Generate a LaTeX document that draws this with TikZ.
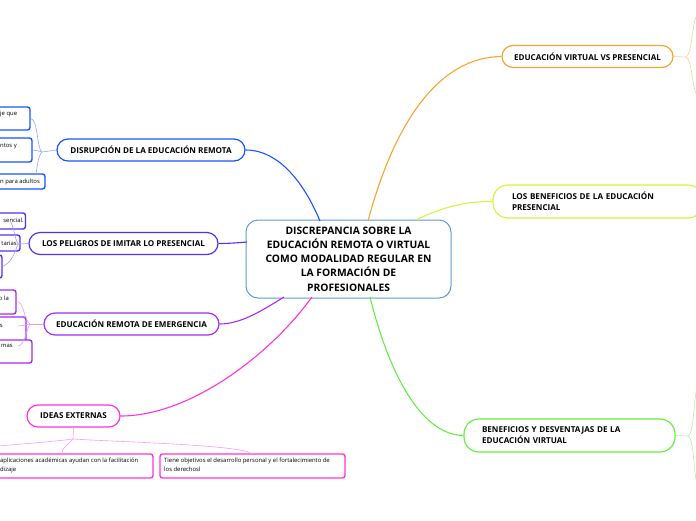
\documentclass[tikz,border=0pt]{standalone}
\usepackage{fontspec}
\setmainfont{Open Sans}
\definecolor{cCenter}{HTML}{5B9BD5}
\definecolor{cOrange}{HTML}{F7A531}
\definecolor{cOrangeL}{HTML}{FAD09A}
\definecolor{cYellow}{HTML}{D4F542}
\definecolor{cGreen}{HTML}{66EE44}
\definecolor{cGreenL}{HTML}{B3F5A0}
\definecolor{cBlue}{HTML}{1A53FF}
\definecolor{cBlueL}{HTML}{8FA9FF}
\definecolor{cViolet}{HTML}{5533EE}
\definecolor{cVioletL}{HTML}{A999F6}
\definecolor{cPurple}{HTML}{A52AF0}
\definecolor{cPurpleL}{HTML}{D9A0F8}
\definecolor{cMagenta}{HTML}{FF33DD}
\definecolor{cMagentaL}{HTML}{FF99EE}
\begin{document}
\begin{tikzpicture}[x=1pt,y=-1pt,
  mainbox/.style={draw, line width=1.2pt, rounded corners=11pt, inner sep=0pt,
    minimum height=22pt, font=\fontsize{8.1}{11}\selectfont\bfseries, fill=white},
  childbox/.style={draw, line width=1.4pt, rounded corners=2.5pt, inner sep=0pt, fill=white},
  smalltext/.style={font=\fontsize{5.9}{9.5}\selectfont, inner sep=0pt, align=left},
  conn/.style={line width=1.1pt},
  subconn/.style={line width=0.6pt}
]
\useasboundingbox (0,0) rectangle (696,520);
\clip (0,0) rectangle (696,520);

% centre
\node[draw=cCenter, line width=1pt, rounded corners=12pt, minimum width=205pt, minimum height=78pt,
  inner sep=0pt, align=center, font=\fontsize{10.3}{14.3}\selectfont\bfseries] (c) at (348.5,259)
  {DISCREPANCIA SOBRE LA\\EDUCACIÓN REMOTA O VIRTUAL\\COMO MODALIDAD REGULAR EN\\LA FORMACIÓN DE\\PROFESIONALES};

% main nodes
\node[mainbox, draw=cOrange, minimum width=171pt] (evp) at (587.5,56.5) {EDUCACIÓN VIRTUAL VS PRESENCIAL};
\node[mainbox, draw=cYellow, minimum width=210pt, minimum height=33pt, rounded corners=15pt,
  text width=172pt, align=left] (bep) at (598,201.5) {LOS BENEFICIOS DE LA EDUCACIÓN\\PRESENCIAL};
\node[mainbox, draw=cGreen, minimum width=211pt, minimum height=33pt, rounded corners=15pt,
  text width=175pt, align=left] (bdv) at (569.5,435.5) {BENEFICIOS Y DESVENTAJAS DE LA\\EDUCACIÓN VIRTUAL};
\node[mainbox, draw=cBlue, minimum width=188pt] (dis) at (151,150) {DISRUPCIÓN DE LA EDUCACIÓN REMOTA};
\node[mainbox, draw=cViolet, minimum width=189pt] (pel) at (123.5,243.5) {LOS PELIGROS DE IMITAR LO PRESENCIAL};
\node[mainbox, draw=cPurple, minimum width=175pt] (eme) at (131.5,324) {EDUCACIÓN REMOTA DE EMERGENCIA};
\node[mainbox, draw=cMagenta, minimum width=93pt] (ide) at (73.5,416) {IDEAS EXTERNAS};

% main connectors
\coordinate (cO) at (368,221);
\coordinate (cY) at (416,220);
\coordinate (cG) at (370,297);
\coordinate (cB) at (320,221);
\coordinate (cV) at (247,242);
\coordinate (cP) at (284,297);
\coordinate (cM) at (312,297);
\draw[conn, cOrange] (cO) .. controls (395,120) and (440,57) .. (evp.west);
\draw[conn, cYellow] (cY) .. controls (440,208) and (465,201) .. (bep.west);
\draw[conn, cGreen] (cG) .. controls (388,370) and (420,435) .. (bdv.west);
\draw[conn, cBlue] (cB) .. controls (305,185) and (280,150) .. (dis.east);
\draw[conn, cViolet] (cV) .. controls (235,243) and (228,243.5) .. (pel.east);
\draw[conn, cPurple] (cP) .. controls (260,312) and (240,324) .. (eme.east);
\draw[conn, cMagenta] (cM) .. controls (270,355) and (190,416) .. (ide.east);

% right side stubs
\coordinate (evpj) at (686,57);
\coordinate (evpu) at (697,15);
\coordinate (evpd) at (697,95);
\draw[subconn, cOrangeL] (evp.east) -- (evpj);
\draw[subconn, cOrangeL] (evpj) .. controls (692,55) and (692,22) .. (evpu);
\draw[subconn, cOrangeL] (evpj) .. controls (692,59) and (692,88) .. (evpd);
\coordinate (bdvj) at (688,436);
\coordinate (bdvu) at (697,388);
\coordinate (bdvd) at (697,484);
\draw[subconn, cGreenL] (bdv.east) -- (bdvj);
\draw[subconn, cGreenL] (bdvj) .. controls (694,434) and (694,396) .. (bdvu);
\draw[subconn, cGreenL] (bdvj) .. controls (694,438) and (694,476) .. (bdvd);

% DISRUPCION children
\node[childbox, draw=cBlue, minimum width=90pt, minimum height=23pt] (d1) at (-15,118.5) {};
\node[childbox, draw=cBlue, minimum width=92pt, minimum height=24pt] (d2) at (-14,150) {};
\node[childbox, draw=cBlue, minimum width=105pt, minimum height=15pt] (d3) at (-7.5,181.5) {};
\node[smalltext, anchor=west] (d1t) at (0,114) {je que};
\node[smalltext, anchor=west] (d2t) at (0,146) {ntos y};
\node[smalltext, anchor=west] (d3t) at (0,182) {n para adultos};
\coordinate (dj) at (42,152);
\coordinate (d3top) at (36,174);
\draw[subconn, cBlueL] (dis.west) -- (dj);
\draw[subconn, cBlueL] (dj) .. controls (37,150) and (38,119) .. (d1.east);
\draw[subconn, cBlueL] (dj) .. controls (38,151) and (35,150) .. (d2.east);
\draw[subconn, cBlueL] (dj) .. controls (38,156) and (37,168) .. (d3top);

% PELIGROS children
\node[childbox, draw=cViolet, minimum width=85pt, minimum height=16pt] (p1) at (-17,221) {};
\node[childbox, draw=cViolet, minimum width=80pt, minimum height=16pt] (p2) at (-20,243) {};
\node[childbox, draw=cViolet, minimum width=62pt, minimum height=23pt] (p3) at (-29,266.5) {};
\node[smalltext, anchor=east] (p1t) at (24,220) {sencial.};
\node[smalltext, anchor=east] (p2t) at (17,243) {tarias};
\coordinate (pj) at (18,244);
\coordinate (p1in) at (10,221);
\draw[subconn, cVioletL] (pel.west) -- (pj);
\draw[subconn, cVioletL] (pj) .. controls (14,236) and (14,226) .. (p1in);
\draw[subconn, cVioletL] (pj) .. controls (14,254) and (12,262) .. (p3.east);
\draw[subconn, cVioletL] (pj) -- (p2.east);

% EMERGENCIA children
\node[childbox, draw=cPurple, minimum width=76pt, minimum height=24pt] (e1) at (-22,302) {};
\node[childbox, draw=cPurple, minimum width=86pt, minimum height=25pt] (e2) at (-17,329.5) {};
\node[childbox, draw=cPurple, minimum width=92pt, minimum height=23pt] (e3) at (-14,351.5) {};
\node[smalltext, anchor=east] (e1t) at (9,298) {o la};
\node[smalltext, anchor=east] (e2t) at (3,326) {s};
\node[smalltext, anchor=east] (e3t) at (13,346) {mas};
\coordinate (ej) at (30,324);
\coordinate (e1in) at (18,302);
\coordinate (e2in) at (18,326);
\coordinate (e3in) at (18,346);
\draw[subconn, cPurpleL] (eme.west) -- (ej);
\draw[subconn, cPurpleL] (ej) .. controls (24,320) and (24,303) .. (e1in);
\draw[subconn, cPurpleL] (ej) .. controls (24,325) and (22,326) .. (e2in);
\draw[subconn, cPurpleL] (ej) .. controls (26,330) and (25,345) .. (e3in);

% IDEAS EXTERNAS children
\node[childbox, draw=cMagenta, minimum width=353pt, minimum height=24pt] (i1) at (-23.5,466) {};
\node[childbox, draw=cMagenta, minimum width=185pt, minimum height=24pt] (i2) at (252.5,466) {};
\node[smalltext, anchor=north west] (i1t) at (0,457.5) {aplicaciones académicas ayudan con la facilitación\\dizaje};
\node[smalltext, anchor=north west] (i2t) at (164,457.5) {Tiene objetivos el desarrollo personal y el fortalecimiento de\\los derechosl};
\coordinate (ij) at (73,439);
\coordinate (il) at (-1,446);
\coordinate (i1top) at (62,454);
\coordinate (i2top) at (252,454);
\draw[subconn, cMagentaL] (ide.south) -- (ij);
\draw[subconn, cMagentaL] (ij) .. controls (50,442) and (20,444) .. (il);
\draw[subconn, cMagentaL] (ij) .. controls (70,444) and (62,446) .. (i1top);
\draw[subconn, cMagentaL] (ij) .. controls (120,442) and (245,445) .. (i2top);
\end{tikzpicture}
\end{document}
